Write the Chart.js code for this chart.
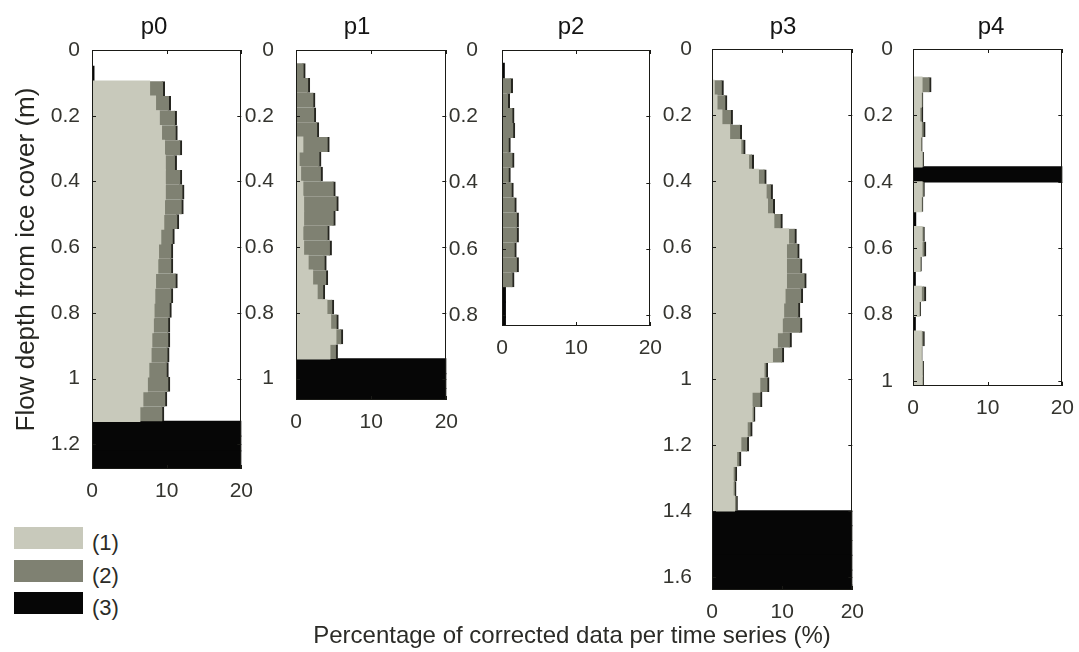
<!DOCTYPE html>
<html lang="en">
<head>
<meta charset="utf-8">
<title>Corrected data per depth bin</title>
<script src="https://cdn.jsdelivr.net/npm/chart.js@4.4.1/dist/chart.umd.min.js"></script>
<style>
  html, body { margin: 0; padding: 0; background: #fff; }
  #figure {
    position: relative; width: 1079px; height: 652px; overflow: hidden;
    font-family: 'Liberation Sans', Arial, sans-serif; color: #2b2b27;
  }
  #figure canvas { position: absolute; top: 0; }
  .panel-title {
    position: absolute; top: 14px; font-size: 24px; line-height: 24px;
    transform: translateX(-50%); color: #141414; white-space: nowrap;
  }
  .x-title {
    position: absolute; left: 572px; top: 622px; font-size: 24px; line-height: 26px;
    transform: translateX(-50%); white-space: nowrap;
  }
  .legend-row { position: absolute; left: 14px; height: 22px; }
  .legend-box { position: absolute; left: 0; top: 0; width: 69px; height: 22px; }
  .legend-text { position: absolute; left: 78px; top: -1px; font-size: 22px; line-height: 34px; white-space: nowrap; }
</style>
</head>
<body>
<div id="figure"></div>
<script>
// series: (1) light, (2) dark, (3) black
const seriesLabels = ['(1)', '(2)', '(3)'];
const seriesColors = ['#c8c9bb', '#7f8172', '#060606'];

const panelNames = ['p0', 'p1', 'p2', 'p3', 'p4'];
const depthLimits = [1.275, 1.065, 0.832, 1.64, 1.015];
const depthTicks = [0, 0.2, 0.4, 0.6, 0.8, 1, 1.2, 1.4, 1.6];
const percentTicks = [0, 10, 20];

// bin centres (m) and percentages per bin
const p0Depth = [0.0725, 0.1175, 0.1625, 0.2075, 0.2525, 0.2975, 0.3425, 0.3875, 0.4325, 0.4775,
                 0.5225, 0.5675, 0.6125, 0.6575, 0.7025, 0.7475, 0.7925, 0.8375, 0.8825, 0.9275,
                 0.9725, 1.0175, 1.0625, 1.1075, 1.1525, 1.1975, 1.2425, 1.2875];
const p0Light = [0, 7.7, 8.5, 9.0, 9.3, 9.7, 9.8, 9.8, 9.8, 9.7, 9.6, 9.2, 8.9, 8.8, 8.5, 8.4,
                 8.3, 8.2, 8.0, 7.9, 7.6, 7.4, 6.8, 6.4, 0, 0, 0, 0];
const p0Dark = [0, 2.0, 2.0, 2.3, 2.1, 2.3, 1.5, 2.2, 2.5, 2.5, 2.0, 1.8, 1.9, 2.0, 2.9, 2.4,
                2.3, 2.2, 2.4, 2.4, 2.6, 3.0, 3.2, 3.2, 0, 0, 0, 0];
const p0Black = [0.25, 0, 0, 0, 0, 0, 0, 0, 0, 0, 0, 0, 0, 0, 0, 0,
                 0, 0, 0, 0, 0, 0, 0, 0, 100, 100, 100, 100];

const p1Depth = [0.0625, 0.1075, 0.1525, 0.1975, 0.2425, 0.2875, 0.3325, 0.3775, 0.4225, 0.4675,
                 0.5125, 0.5575, 0.6025, 0.6475, 0.6925, 0.7375, 0.7825, 0.8275, 0.8725, 0.9175,
                 0.9625, 1.0075, 1.0525];
const p1Light = [0, 0, 0, 0, 0, 0.9, 0.4, 0.6, 0.9, 1.0, 1.0, 0.9, 1.0, 1.6, 2.2, 2.8,
                 4.1, 4.6, 5.3, 4.5, 0, 0, 0];
const p1Dark = [1.2, 1.8, 2.5, 2.6, 3.0, 3.5, 2.9, 2.9, 4.3, 4.6, 4.2, 3.5, 3.7, 2.4, 2.0, 1.0,
                0.9, 1.0, 0.9, 1.0, 0, 0, 0];
const p1Black = [0, 0, 0, 0, 0, 0, 0, 0, 0, 0, 0, 0, 0, 0, 0, 0, 0, 0, 0, 0, 100, 100, 100];

const p2Depth = [0.0625, 0.1075, 0.1525, 0.1975, 0.2425, 0.2875, 0.3325, 0.3775, 0.4225, 0.4675,
                 0.5125, 0.5575, 0.6025, 0.6475, 0.6925, 0.7375, 0.7825, 0.8275];
const p2Light = [0, 0, 0, 0, 0, 0, 0, 0, 0, 0, 0, 0, 0, 0, 0, 0, 0, 0];
const p2Dark = [0, 1.4, 1.0, 1.6, 1.7, 1.1, 1.6, 1.1, 1.5, 1.9, 2.2, 2.2, 1.9, 2.2, 1.6, 0, 0, 0];
const p2Black = [0.3, 0, 0, 0, 0, 0, 0, 0, 0, 0, 0, 0, 0, 0, 0, 0.45, 0.45, 0.45];

const p3Depth = [0.1175, 0.1625, 0.2075, 0.2525, 0.2975, 0.3425, 0.3875, 0.4325, 0.4775, 0.5225,
                 0.5675, 0.6125, 0.6575, 0.7025, 0.7475, 0.7925, 0.8375, 0.8825, 0.9275, 0.9725,
                 1.0175, 1.0625, 1.1075, 1.1525, 1.1975, 1.2425, 1.2875, 1.3325, 1.3775, 1.4225,
                 1.4675, 1.5125, 1.5575, 1.6025, 1.6475];
const p3Light = [0.3, 0.7, 1.4, 2.5, 4.1, 5.2, 6.6, 7.7, 7.9, 8.8, 10.9, 10.6, 10.6, 10.6, 10.4,
                 10.2, 10.0, 9.3, 8.6, 7.4, 6.8, 5.7, 5.7, 5.0, 4.1, 3.5, 3.0, 3.0, 3.2,
                 0, 0, 0, 0, 0, 0];
const p3Dark = [1.3, 1.4, 1.5, 1.7, 0.6, 0.7, 1.1, 0.9, 1.0, 1.2, 1.1, 1.8, 2.2, 2.8, 2.5,
                2.3, 2.8, 2.0, 1.6, 0.5, 1.3, 1.4, 0.4, 0.7, 1.1, 0.6, 0.5, 0.4, 0.4,
                0, 0, 0, 0, 0, 0];
const p3Black = [0, 0, 0, 0, 0, 0, 0, 0, 0, 0, 0, 0, 0, 0, 0, 0, 0, 0, 0, 0, 0, 0, 0, 0, 0,
                 0, 0, 0, 0, 100, 100, 100, 100, 100, 100];

const p4Depth = [0.1075, 0.1525, 0.1975, 0.2425, 0.2875, 0.3325, 0.3775, 0.4225, 0.4675, 0.5125,
                 0.5575, 0.6025, 0.6475, 0.6925, 0.7375, 0.7825, 0.8275, 0.8725, 0.9175, 0.9625,
                 1.0075];
const p4Light = [1.2, 1.1, 0.9, 1.1, 1.0, 1.2, 0, 1.2, 1.1, 0, 1.2, 1.2, 0.9, 0, 1.1, 0.8,
                 0, 1.1, 1.1, 1.2, 1.2];
const p4Dark = [1.2, 0.2, 0.4, 0.5, 0.2, 0.2, 0, 0.3, 0.2, 0, 0.3, 0.5, 0.2, 0, 0.6, 0.2,
                0, 0.4, 0.1, 0.2, 0.2];
const p4Black = [0, 0, 0, 0, 0, 0, 100, 0, 0, 0.35, 0, 0, 0, 0.3, 0, 0, 0.3, 0, 0, 0, 0];

const panelData = [
  { depth: p0Depth, series: [p0Light, p0Dark, p0Black] },
  { depth: p1Depth, series: [p1Light, p1Dark, p1Black] },
  { depth: p2Depth, series: [p2Light, p2Dark, p2Black] },
  { depth: p3Depth, series: [p3Light, p3Dark, p3Black] },
  { depth: p4Depth, series: [p4Light, p4Dark, p4Black] }
];

// plot rectangles on the page (px)
const panelLayout = [
  { left: 92,  top: 50, right: 247,  bottom: 469, axisWidth: 92, labelGap: 12, titleX: 154 },
  { left: 296, top: 50, right: 452,  bottom: 400, axisWidth: 60, labelGap: 22, titleX: 357 },
  { left: 502, top: 50, right: 656,  bottom: 326, axisWidth: 60, labelGap: 24, titleX: 571 },
  { left: 712, top: 49, right: 858,  bottom: 590, axisWidth: 60, labelGap: 20, titleX: 783 },
  { left: 913, top: 49, right: 1068, bottom: 386, axisWidth: 60, labelGap: 20, titleX: 991 }
];
const rightPad = 16;
const xAxisHeight = 45;
const tickFont = { family: "'Liberation Sans', Arial, sans-serif", size: 21 };
const tickColor = '#34342f';

// box around the plot with short inward ticks on all four sides
const frameTicks = {
  id: 'frameTicks',
  afterDatasetsDraw(chart) {
    const { ctx, chartArea: a, scales: { x, y } } = chart;
    const len = 4;
    ctx.save();
    ctx.strokeStyle = '#1a1a16';
    ctx.lineWidth = 1;
    ctx.beginPath();
    x.ticks.forEach(t => {
      const px = Math.round(x.getPixelForValue(t.value)) + 0.5;
      ctx.moveTo(px, a.top); ctx.lineTo(px, a.top + len);
      ctx.moveTo(px, a.bottom); ctx.lineTo(px, a.bottom - len);
    });
    y.ticks.forEach(t => {
      const py = Math.round(y.getPixelForValue(t.value)) + 0.5;
      ctx.moveTo(a.left, py); ctx.lineTo(a.left + len, py);
      ctx.moveTo(a.right, py); ctx.lineTo(a.right - len, py);
    });
    ctx.stroke();
    ctx.strokeRect(Math.round(a.left) + 0.5, Math.round(a.top) + 0.5,
                   Math.round(a.width) - 1, Math.round(a.height) - 1);
    ctx.restore();
  }
};

const fig = document.getElementById('figure');

panelNames.forEach((name, i) => {
  const box = panelLayout[i];
  const data = panelData[i];

  const canvas = document.createElement('canvas');
  canvas.width = box.axisWidth + (box.right - box.left) + rightPad;
  canvas.height = box.bottom + xAxisHeight;
  canvas.style.left = (box.left - box.axisWidth) + 'px';
  fig.appendChild(canvas);

  const title = document.createElement('div');
  title.className = 'panel-title';
  title.style.left = box.titleX + 'px';
  title.textContent = name;
  fig.appendChild(title);

  new Chart(canvas, {
    type: 'bar',
    data: {
      labels: data.depth,
      datasets: data.series.map((values, k) => ({
        label: seriesLabels[k],
        data: values.map(v => v || null),
        backgroundColor: seriesColors[k],
        borderColor: '#25251f',
        borderWidth: k === 1 ? { top: 0, right: 2, bottom: 0, left: 0 } : 0,
        barPercentage: 1,
        categoryPercentage: 1,
        inflateAmount: 0.6,   // overlap neighbouring bins so no hairline seams show
        clip: 0
      }))
    },
    options: {
      indexAxis: 'y',
      responsive: false,
      animation: false,
      events: [],
      layout: { padding: { top: box.top, right: rightPad, bottom: 0, left: 0 } },
      plugins: { legend: { display: false }, tooltip: { enabled: false } },
      scales: {
        x: {
          type: 'linear', stacked: true, min: 0, max: 20, offset: false,
          grid: { display: false, drawTicks: false, offset: false },
          border: { display: false },
          afterBuildTicks: axis => { axis.ticks = percentTicks.map(v => ({ value: v })); },
          afterFit: axis => { axis.height = xAxisHeight; },
          ticks: { font: tickFont, color: tickColor, padding: 10, maxRotation: 0, autoSkip: false }
        },
        y: {
          type: 'linear', stacked: true, reverse: true, min: 0, max: depthLimits[i], offset: false,
          grid: { display: false, drawTicks: false, offset: false },
          border: { display: false },
          afterBuildTicks: axis => {
            axis.ticks = depthTicks.filter(v => v <= axis.max + 1e-9).map(v => ({ value: v }));
          },
          afterFit: axis => { axis.width = box.axisWidth; },
          ticks: {
            font: tickFont, color: tickColor, padding: box.labelGap, autoSkip: false,
            callback: v => String(v)
          },
          title: {
            display: i === 0,
            text: 'Flow depth from ice cover (m)',
            color: '#262622',
            font: { family: "'Liberation Sans', Arial, sans-serif", size: 26 },
            padding: { top: 11, bottom: 0 }
          }
        }
      }
    },
    plugins: [frameTicks]
  });
});

// axis caption shared by all panels
const xTitle = document.createElement('div');
xTitle.className = 'x-title';
xTitle.textContent = 'Percentage of corrected data per time series (%)';
fig.appendChild(xTitle);

// legend swatches, bottom left
const legendTops = [527, 560, 592];
seriesLabels.forEach((label, k) => {
  const row = document.createElement('div');
  row.className = 'legend-row';
  row.style.top = legendTops[k] + 'px';
  row.innerHTML = `<div class="legend-box" style="background:${seriesColors[k]}"></div>` +
                  `<div class="legend-text">${label}</div>`;
  fig.appendChild(row);
});
</script>
</body>
</html>
